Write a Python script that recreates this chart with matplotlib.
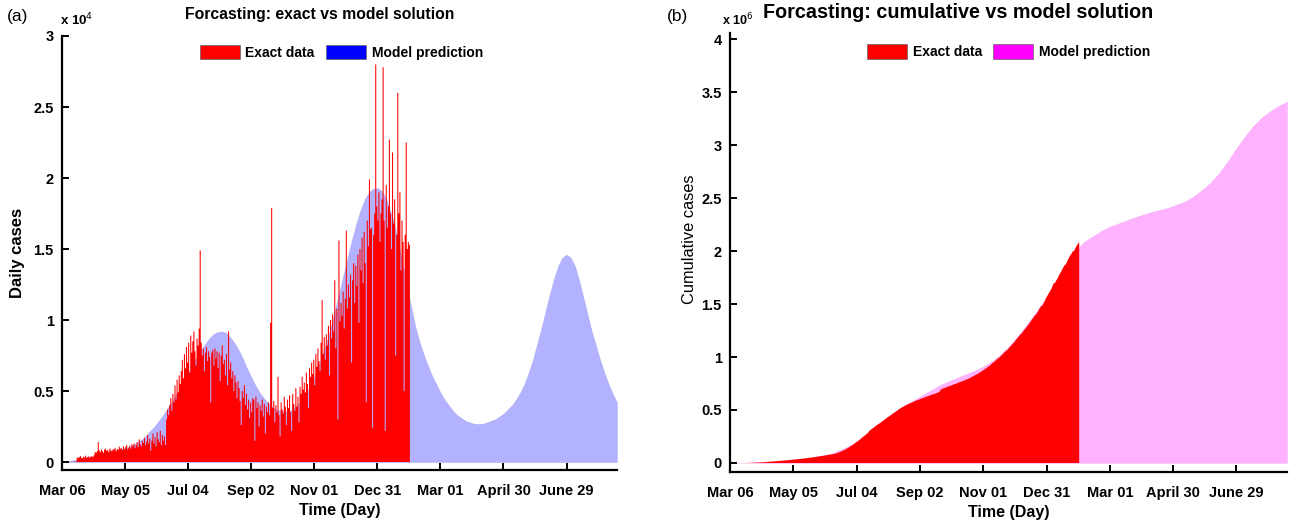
import numpy as np
import matplotlib
matplotlib.use("Agg")
import matplotlib.pyplot as plt
import matplotlib.patches as mpatches
from matplotlib.ticker import FuncFormatter

plt.rcParams['font.family'] = ['Liberation Sans', 'DejaVu Sans']

# x axis: days since Mar 06
tick_days = [0, 60, 120, 180, 240, 300, 360, 420, 480]
tick_labels = ['Mar 06', 'May 05', 'Jul 04', 'Sep 02', 'Nov 01', 'Dec 31',
               'Mar 01', 'April 30', 'June 29']

# daily reported cases, one value per day (day 0 .. 330)
daily_cases = [
    0, 0, 0, 0, 0, 0, 0, 10, 0, 20, 0, 30, 20, 40,
    310, 280, 350, 420, 300, 260, 380,
    330, 450, 290, 360, 400, 310, 370,
    420, 350, 480, 700, 650, 760, 1400,
    820, 700, 900, 760, 650, 880, 940,
    780, 860, 700, 950, 820, 760, 900,
    880, 1000, 760, 920, 860, 1080, 940,
    980, 830, 1120, 900, 1050, 1200, 880,
    1000, 1150, 940, 1250, 1100, 1300, 980,
    1180, 1400, 1050, 1600, 1250, 1100, 1500,
    1350, 1700, 1200, 1450, 1900, 1300, 1650,
    800, 1500, 2000, 1300, 1750, 1100, 2100,
    1600, 1400, 2200, 1200, 1900, 1500, 1800,
    1200, 3000, 3700, 3300, 4000, 4500, 3600,
    4800, 4200, 5400, 4400, 5800, 4900, 6100,
    5500, 6400, 7200, 5900, 7600, 6600, 8100,
    7000, 8400, 6300, 8900, 7700, 8500, 9200,
    7800, 6800, 8700, 8200, 9400, 14900, 8400,
    7500, 8000, 6400, 7700, 8100, 7100, 7800,
    7400, 4200, 7700, 7900, 6800, 8000, 7300,
    7800, 6600, 7700, 5700, 7500, 8200, 6900,
    7200, 6100, 7600, 5400, 9200, 6500, 7000,
    5900, 6400, 5000, 6100, 5600, 4500, 5700,
    5200, 4300, 2600, 5000, 4500, 5400, 4000,
    4800, 3700, 4400, 3100, 4200, 3500, 4500,
    4400, 1500, 4600, 3800, 4200, 2500, 4000,
    3600, 4400, 3200, 4100, 2000, 3900, 3500,
    4200, 3300, 9800, 17900, 3800, 4300, 2800,
    4000, 3500, 6000, 3300, 1800, 4200, 3700,
    3400, 4600, 3900, 2600, 4400, 3800, 4700,
    3500, 2200, 4800, 4100, 3600, 5200, 3900,
    4600, 2800, 5300, 4800, 6000, 5100, 5600,
    4900, 6300, 5500, 3800, 6600, 6000, 7000,
    6200, 7200, 5400, 7600, 6700, 8000, 7100,
    6400, 8400, 11400, 7600, 8800, 7200, 9000,
    8200, 9600, 6100, 10000, 8700, 10400, 9200,
    12800, 8000, 10800, 3000, 15600, 9900, 11200,
    10300, 12000, 9400, 11500, 16300, 10800, 12500,
    11600, 13200, 7000, 12800, 14000, 11200, 13800,
    12400, 14600, 9800, 15000, 13500, 15800, 12600,
    16200, 14000, 4200, 17000, 15200, 19900, 16400,
    16500, 2400, 16000, 17500, 28000, 18000, 17000,
    19000, 15500, 17500, 18500, 27800, 17000, 2200,
    19500, 16500, 18000, 22700, 17500, 15000, 21800,
    16800, 18500, 7500, 16000, 26000, 17500, 19000,
    13500, 17000, 15500, 5000, 16000, 22500, 15000,
    15500, 15300,
]

# model daily prediction, every 4 days (day 0 .. 528), x 1e4
model_daily = [
    0.00, 0.005, 0.01, 0.015, 0.02, 0.025, 0.03, 0.035, 0.04, 0.045,
    0.05, 0.06, 0.07, 0.08, 0.09, 0.10, 0.11, 0.125, 0.14, 0.16,
    0.19, 0.22, 0.25, 0.29, 0.33, 0.375, 0.42, 0.47, 0.52, 0.575,
    0.63, 0.685, 0.74, 0.79, 0.83, 0.87, 0.90, 0.915, 0.92, 0.91,
    0.88, 0.84, 0.79, 0.73, 0.66, 0.60, 0.54, 0.49, 0.45, 0.415,
    0.39, 0.37, 0.36, 0.355, 0.36, 0.375, 0.40, 0.435, 0.48, 0.535,
    0.60, 0.675, 0.76, 0.855, 0.96, 1.08, 1.20, 1.325, 1.45, 1.57,
    1.68, 1.775, 1.85, 1.90, 1.925, 1.93, 1.91, 1.86, 1.78, 1.68,
    1.55, 1.40, 1.25, 1.10, 0.96, 0.85, 0.76, 0.68, 0.61, 0.55,
    0.49, 0.44, 0.40, 0.36, 0.33, 0.31, 0.29, 0.28, 0.27, 0.268,
    0.27, 0.278, 0.29, 0.30, 0.32, 0.34, 0.37, 0.40, 0.44, 0.49,
    0.55, 0.63, 0.72, 0.83, 0.94, 1.06, 1.18, 1.29, 1.38, 1.44,
    1.46, 1.44, 1.38, 1.28, 1.16, 1.04, 0.92, 0.82, 0.72, 0.63,
    0.55, 0.48, 0.42,
]
model_daily_days = list(range(0, 529, 4))

# model cumulative prediction, every 8 days (day 0 .. 528), x 1e6
model_cum = [
    0.000, 0.000, 0.001, 0.003, 0.006, 0.010, 0.015, 0.022, 0.030, 0.040,
    0.053, 0.070, 0.092, 0.122, 0.158, 0.200, 0.258, 0.325, 0.392, 0.455,
    0.510, 0.560, 0.605, 0.650, 0.695, 0.740, 0.775, 0.808, 0.840, 0.872,
    0.910, 0.960, 1.020, 1.100, 1.190, 1.290, 1.400, 1.510, 1.625, 1.760,
    1.890, 2.010, 2.090, 2.140, 2.190, 2.230, 2.260, 2.290, 2.320, 2.345,
    2.370, 2.390, 2.410, 2.440, 2.470, 2.520, 2.580, 2.650, 2.740, 2.850,
    2.970, 3.080, 3.180, 3.260, 3.320, 3.370, 3.410,
]
model_cum_days = list(range(0, 529, 8))

daily = np.array(daily_cases, dtype=float)
edges = np.arange(len(daily) + 1)
cumulative = np.cumsum(daily)
m_daily = np.array(model_daily) * 1e4
m_cum = np.array(model_cum) * 1e6

fig = plt.figure(figsize=(12.9, 5.26), dpi=100)
ax1 = fig.add_axes([0.04806, 0.10646, 0.4302, 0.8251])
ax2 = fig.add_axes([0.5659, 0.10266, 0.4318, 0.8346])


def style(ax):
    for s in ['top', 'right']:
        ax.spines[s].set_visible(False)
    for s in ['left', 'bottom']:
        ax.spines[s].set_linewidth(1.6)
    ax.tick_params(direction='in', length=5, width=1.4, labelsize=10.5)
    ax.tick_params(axis='x', pad=10)
    ax.tick_params(axis='y', pad=6)
    ax.set_xlim(0, 528)
    ax.set_xticks(tick_days)
    ax.set_xticklabels(tick_labels)
    for lab in ax.get_xticklabels() + ax.get_yticklabels():
        lab.set_fontweight('bold')
    ax.set_xlabel('Time (Day)', fontsize=11.5, fontweight='bold', labelpad=4)


# (a) daily
ax1.fill_between(model_daily_days, m_daily, color=(0, 0, 1), alpha=0.3,
                 linewidth=0.6, edgecolor=(0.55, 0.55, 0.85))
ax1.fill_between(edges, np.append(daily, daily[-1]), step='post',
                 facecolor='red', edgecolor='none', linewidth=0)
ax1.set_ylim(-560, 30000)
ax1.set_yticks(np.arange(0, 30001, 5000))
ax1.yaxis.set_major_formatter(FuncFormatter(lambda v, p: '%g' % (v / 1e4)))
style(ax1)
ax1.set_ylabel('Daily cases', fontsize=12, fontweight='bold')
ax1.yaxis.set_label_coords(-37 / 555, 0.50)
ax1.legend(handles=[mpatches.Patch(facecolor='red', edgecolor='0.4', lw=0.5),
                    mpatches.Patch(facecolor='blue', edgecolor='0.4', lw=0.5)],
           labels=['Exact data', 'Model prediction'], loc='center',
           bbox_to_anchor=(0.503, 0.963), ncol=2, frameon=False,
           prop={'size': 10, 'weight': 'bold'}, handlelength=2.9,
           handleheight=1.25, handletextpad=0.4, columnspacing=0.8)
fig.text(320 / 1290, 1 - 14 / 526, 'Forcasting: exact vs model solution',
         ha='center', va='center', fontsize=11.3, fontweight='bold')
fig.text(60 / 1290, 1 - 20 / 526, r'x 10$^{4}$', ha='left', va='center',
         fontsize=9.5, fontweight='bold')
fig.text(18 / 1290, 1 - 17 / 526, '(a)', ha='center', va='center', fontsize=12.5)

# (b) cumulative
ax2.fill_between(model_cum_days, m_cum, color=(1, 0, 1), alpha=0.3,
                 linewidth=0.6, edgecolor=(0.9, 0.6, 0.9))
ax2.fill_between(edges[1:], cumulative, facecolor='red', edgecolor='none',
                 linewidth=0)
ax2.set_ylim(-85000, 4057000)
ax2.set_yticks(np.arange(0, 4000001, 500000))
ax2.yaxis.set_major_formatter(FuncFormatter(lambda v, p: '%g' % (v / 1e6)))
style(ax2)
ax2.set_ylabel('Cumulative cases', fontsize=11.8)
ax2.yaxis.set_label_coords(-33 / 557, 0.53)
ax2.legend(handles=[mpatches.Patch(facecolor='red', edgecolor='0.4', lw=0.5),
                    mpatches.Patch(facecolor=(1, 0, 1), edgecolor='0.4', lw=0.5)],
           labels=['Exact data', 'Model prediction'], loc='center',
           bbox_to_anchor=(0.50, 0.957), ncol=2, frameon=False,
           prop={'size': 10, 'weight': 'bold'}, handlelength=2.9,
           handleheight=1.25, handletextpad=0.4, columnspacing=0.8)
fig.text(958 / 1290, 1 - 13 / 526, 'Forcasting: cumulative vs model solution',
         ha='center', va='center', fontsize=14.2, fontweight='bold')
fig.text(722 / 1290, 1 - 20 / 526, r'x 10$^{6}$', ha='left', va='center',
         fontsize=9, fontweight='bold')
fig.text(677 / 1290, 1 - 17 / 526, '(b)', ha='center', va='center', fontsize=12.5)

fig.savefig('out.png', dpi=100)
